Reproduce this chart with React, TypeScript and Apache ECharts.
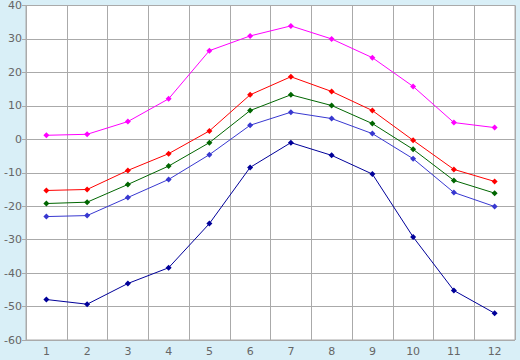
import React, { useEffect, useRef } from "react";
import * as echarts from "echarts";

const categories = ["1", "2", "3", "4", "5", "6", "7", "8", "9", "10", "11", "12"];
const magenta = [1.2, 1.5, 5.3, 12.1, 26.5, 30.9, 33.9, 30.0, 24.4, 15.8, 5.0, 3.5];
const red = [-15.3, -15.0, -9.3, -4.3, 2.5, 13.3, 18.7, 14.3, 8.6, -0.3, -9.0, -12.6];
const green = [-19.2, -18.8, -13.5, -8.0, -1.0, 8.6, 13.3, 10.1, 4.7, -3.0, -12.3, -16.1];
const blue = [-23.1, -22.8, -17.4, -12.0, -4.6, 4.2, 8.1, 6.2, 1.7, -5.8, -15.9, -20.1];
const navy = [-47.9, -49.3, -43.1, -38.4, -25.2, -8.4, -1.0, -4.8, -10.4, -29.2, -45.2, -52.0];

const seriesDefs = [
  { name: "s1", data: magenta, color: "#ff00ff" },
  { name: "s2", data: red, color: "#ff0000" },
  { name: "s3", data: green, color: "#006600" },
  { name: "s4", data: blue, color: "#3838d0" },
  { name: "s5", data: navy, color: "#000099" },
];

export default function App() {
  const ref = useRef<HTMLDivElement>(null);
  useEffect(() => {
    if (!ref.current) return;
    const chart = echarts.init(ref.current, null, { renderer: "svg" });
    const labelStyle = { color: "#666666", fontFamily: "DejaVu Sans", fontSize: 11 };
    chart.setOption({
      animation: false,
      backgroundColor: "#d9eff7",
      grid: {
        left: 26,
        right: 5,
        top: 5,
        bottom: 20,
        show: true,
        backgroundColor: "#ffffff",
        borderColor: "#aaaaaa",
        borderWidth: 1,
      },
      xAxis: {
        type: "category",
        data: categories,
        boundaryGap: true,
        axisLine: { lineStyle: { color: "#aaaaaa" } },
        axisTick: { alignWithLabel: true, length: 4, lineStyle: { color: "#aaaaaa" } },
        axisLabel: { ...labelStyle, margin: 6 },
        splitLine: { show: true, lineStyle: { color: "#aaaaaa", width: 1 } },
      },
      yAxis: {
        type: "value",
        min: -60,
        max: 40,
        interval: 10,
        axisLine: { show: true, lineStyle: { color: "#aaaaaa" } },
        axisTick: { show: true, length: 4, lineStyle: { color: "#aaaaaa" } },
        axisLabel: { ...labelStyle, margin: 4 },
        splitLine: { show: true, lineStyle: { color: "#aaaaaa", width: 1 } },
      },
      series: seriesDefs.map((s) => ({
        name: s.name,
        type: "line",
        data: s.data,
        symbol: "diamond",
        symbolSize: 6,
        showSymbol: true,
        lineStyle: { color: s.color, width: 1 },
        itemStyle: { color: s.color },
      })),
    });
    return () => chart.dispose();
  }, []);
  return <div ref={ref} style={{ width: 520, height: 360, position: "absolute", left: 0, top: 0 }} />;
}
